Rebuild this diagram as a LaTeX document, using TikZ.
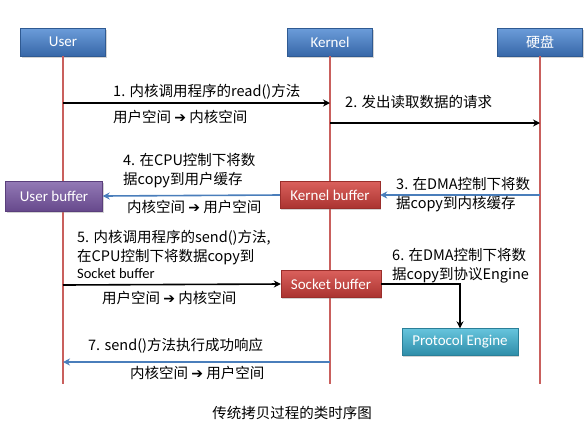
\documentclass[tikz,border=0pt]{standalone}
\usepackage{fontspec}
\setmainfont{Noto Sans CJK SC}
\newfontfamily\boxfont{Carlito}
\newfontfamily\symfont{DejaVu Sans}
\newcommand{\goto}{{\symfont\fontsize{14}{18}\selectfont ➔}}
\usetikzlibrary{arrows.meta,shadows}

\definecolor{headtop}{HTML}{6C9DDA}
\definecolor{headbot}{HTML}{3767A8}
\definecolor{headline}{HTML}{2F5A92}
\definecolor{redtop}{HTML}{DA605C}
\definecolor{redbot}{HTML}{AA3330}
\definecolor{redline}{HTML}{9A2E2B}
\definecolor{purtop}{HTML}{937AB6}
\definecolor{purbot}{HTML}{67498C}
\definecolor{purline}{HTML}{5A3F7C}
\definecolor{tealtop}{HTML}{66C4DD}
\definecolor{tealbot}{HTML}{2E8DA8}
\definecolor{tealline}{HTML}{2A7F98}
\definecolor{lifecol}{HTML}{C9605D}
\definecolor{msgblue}{HTML}{4A7EBB}

\begin{document}
\begin{tikzpicture}[x=1pt, y=-1pt,
        actor/.style={rectangle, draw=headline, top color=headtop, bottom color=headbot, minimum width=85pt, minimum height=28pt, text=white, font=\boxfont\fontsize{15}{17}\selectfont, drop shadow={opacity=0.35, shadow xshift=1pt, shadow yshift=-1.5pt}},
        redbuf/.style={actor, draw=redline, top color=redtop, bottom color=redbot, minimum width=100pt, minimum height=27pt},
        userbuf/.style={actor, draw=purline, top color=purtop, bottom color=purbot, minimum width=97pt, minimum height=30pt},
        engine/.style={actor, draw=tealline, top color=tealtop, bottom color=tealbot, minimum width=116pt, minimum height=27pt},
        life/.style={draw=lifecol, line width=1.6pt},
        call/.style={-{Stealth[length=7pt,width=7pt]}, line width=1.6pt, black},
        reply/.style={-{Stealth[length=7pt,width=7pt]}, line width=1.6pt, msgblue},
        msg/.style={anchor=west, inner sep=0pt, align=left, font=\fontsize{14.5}{19}\selectfont}
    ]
    \useasboundingbox (0,0) rectangle (588,440);

    % Actors
    \node[actor] (user) at (63,42) {User};
    \node[actor] (kernel) at (330,42) {Kernel};
    \node[actor, font=\fontsize{14}{16}\selectfont] (disk) at (540,42) {硬盘};

    % Lifelines
    \coordinate (userend) at (63,384);
    \coordinate (kernelend) at (330,384);
    \coordinate (diskend) at (540,384);
    \draw[life] (user) -- (userend);
    \draw[life] (kernel) -- (kernelend);
    \draw[life] (disk) -- (diskend);

    % Buffers
    \node[userbuf] (ubuf) at (54,196) {User buffer};
    \node[redbuf] (kbuf) at (330,195) {Kernel buffer};
    \node[redbuf] (sbuf) at (331,284) {Socket buffer};
    \node[engine] (peng) at (460,342) {Protocol Engine};

    % Message points
    \coordinate (m1s) at (63,103);
    \coordinate (m1e) at (330,103);
    \coordinate (m2s) at (330,123);
    \coordinate (m2e) at (540,123);
    \coordinate (m3s) at (540,195);
    \coordinate (m5s) at (63,285);
    \coordinate (m7s) at (330,362);
    \coordinate (m7e) at (63,362);

    % Messages
    \draw[call] (m1s) -- (m1e);
    \draw[call] (m2s) -- (m2e);
    \draw[reply] (m3s) -- (kbuf.east);
    \draw[reply] (kbuf.west) -- (ubuf.east);
    \draw[call] (m5s) -- (sbuf.west);
    \draw[call] (sbuf.east) -| (peng.north);
    \draw[reply] (m7s) -- (m7e);

    % Labels
    \node[msg] (t1) at (113,92) {1. 内核调用程序的read()方法};
    \node[msg] (t1b) at (113,117) {用户空间 \goto{} 内核空间};
    \node[msg] (t2) at (345,102) {2. 发出读取数据的请求};
    \node[msg] (t3) at (396,195) {3. 在DMA控制下将数\\据copy到内核缓存};
    \node[msg] (t4) at (123,171) {4. 在CPU控制下将数\\据copy到用户缓存};
    \node[msg] (t4b) at (127,207) {内核空间 \goto{} 用户空间};
    \node[msg] (t5) at (77,248) {5. 内核调用程序的send()方法,\\在CPU控制下将数据copy到};
    \node[msg, font=\boxfont\fontsize{14.5}{17}\selectfont] (t5c) at (77,274) {Socket buffer};
    \node[msg] (t5b) at (102,298) {用户空间 \goto{} 内核空间};
    \node[msg] (t6) at (392,266) {6. 在DMA控制下将数\\据copy到协议Engine};
    \node[msg] (t7) at (88,346) {7. send()方法执行成功响应};
    \node[msg] (t7b) at (130,373) {内核空间 \goto{} 用户空间};

    % Caption
    \node[font=\fontsize{14.5}{17}\selectfont] (cap) at (292,413) {传统拷贝过程的类时序图};

\end{tikzpicture}
\end{document}
